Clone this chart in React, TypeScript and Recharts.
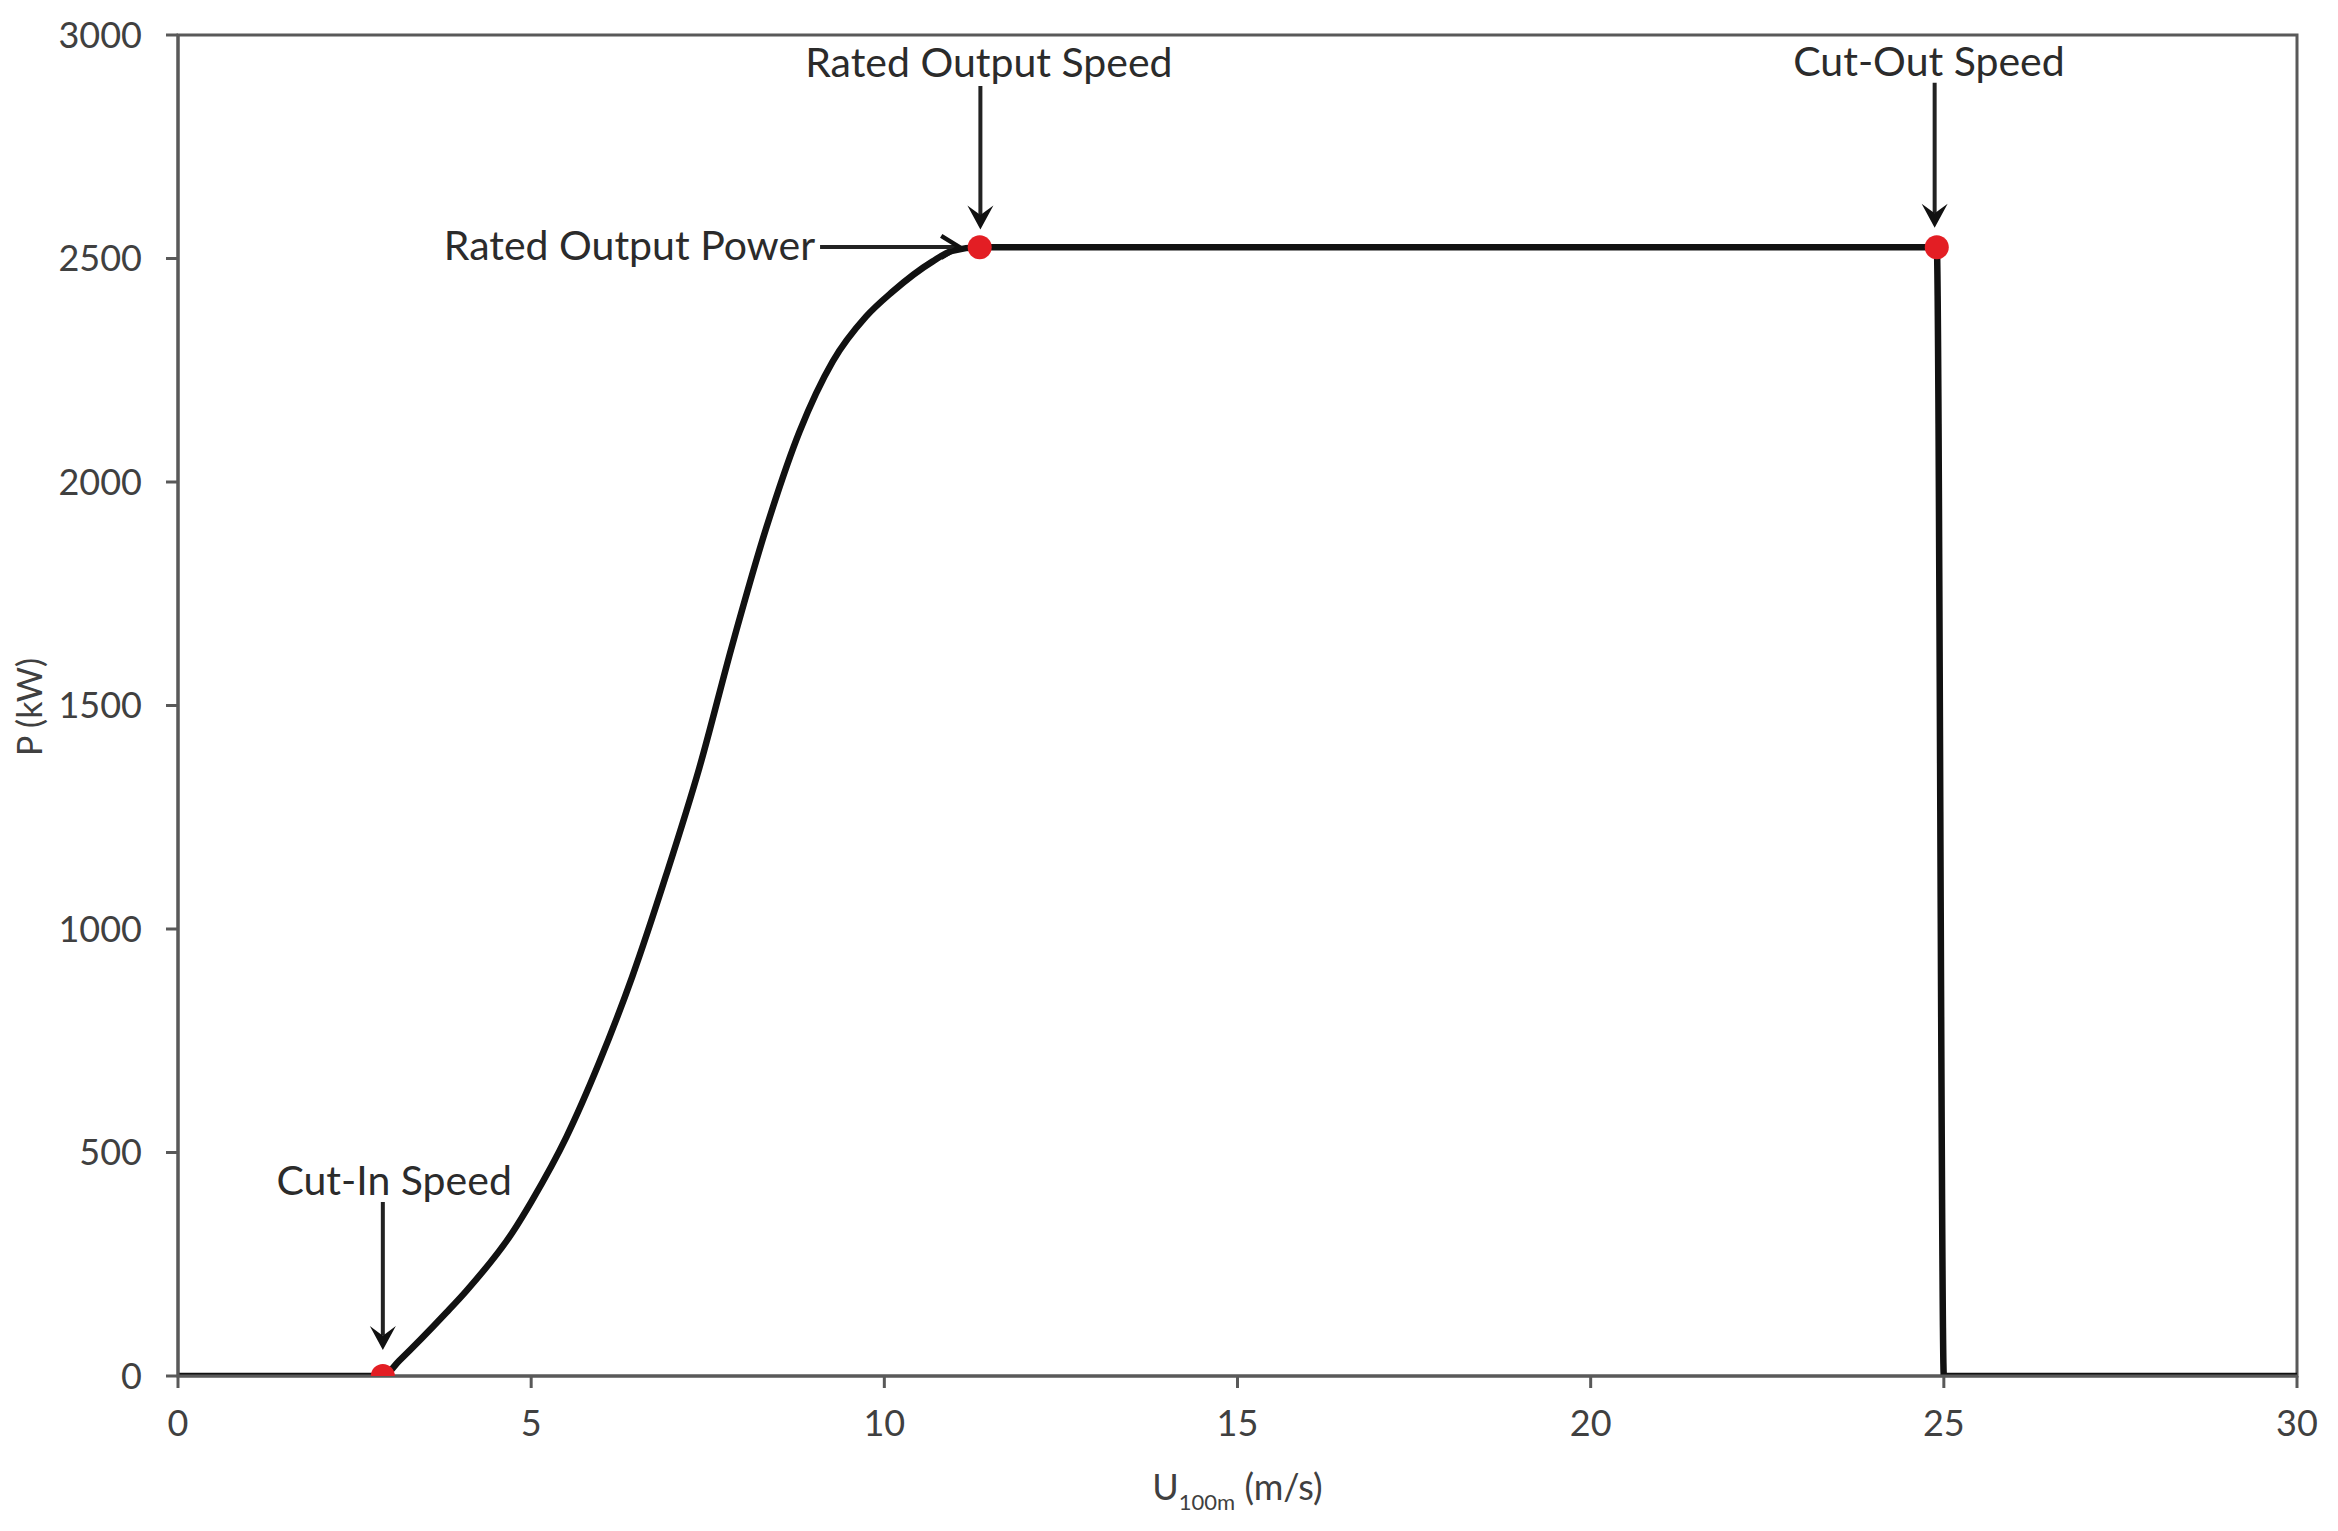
import React from 'react';
import {
  ComposedChart,
  Line,
  Scatter,
  XAxis,
  YAxis,
  ReferenceArea,
  ReferenceLine,
  ReferenceDot,
} from 'recharts';

// wind speed at 100 m (m/s) and power output (kW)
const windSpeed = [0, 2.9, 3.13, 3.8, 4.08, 4.73, 5.01, 5.5, 5.96, 6.43, 6.91, 7.38, 7.85, 8.33, 8.8, 9.27, 9.74, 10.11, 10.68, 10.96, 11.35, 24.9, 25, 30];
const powerKw = [0, 0, 34, 142, 190, 320, 392, 535, 700, 893, 1120, 1360, 1637, 1898, 2113, 2270, 2370, 2425, 2493, 2517, 2525, 2525, 0, 0];

// highlighted operating points
const markerSpeed = [2.9, 11.35, 24.9];
const markerPower = [0, 2525, 2525];

const xTicks = [0, 5, 10, 15, 20, 25, 30];
const yTicks = [0, 500, 1000, 1500, 2000, 2500, 3000];

const curveData = windSpeed.map((u, i) => ({ u, p: powerKw[i] }));
const markerData = markerSpeed.map((u, i) => ({ u, p: markerPower[i] }));

const FONT = 'Lato, "Open Sans", sans-serif';
const AXIS_GREY = '#595959';
const TEXT_GREY = '#404040';
const RED = '#e31e24';

// annotation labels, in data coordinates
const labels = [
  { text: 'Cut-In Speed', u: 3.06, p: 438, anchor: 'middle' },
  { text: 'Rated Output Speed', u: 11.48, p: 2938, anchor: 'middle' },
  { text: 'Cut-Out Speed', u: 24.79, p: 2942, anchor: 'middle' },
  { text: 'Rated Output Power', u: 9.02, p: 2530, anchor: 'end' },
];

// arrows: from -> to (tip), in data coordinates
const arrows = [
  { from: { x: 2.9, y: 389 }, to: { x: 2.9, y: 58 }, kind: 'filled' },
  { from: { x: 11.36, y: 2886 }, to: { x: 11.36, y: 2565 }, kind: 'filled' },
  { from: { x: 24.87, y: 2893 }, to: { x: 24.87, y: 2569 }, kind: 'filled' },
  { from: { x: 9.09, y: 2526 }, to: { x: 11.06, y: 2526 }, kind: 'open' },
];

function arrowGeom(p: any) {
  const { x1, y1, x2, y2 } = p;
  const dx = x2 - x1;
  const dy = y2 - y1;
  const len = Math.hypot(dx, dy) || 1;
  const ux = dx / len;
  const uy = dy / len;
  return { x1, y1, x2, y2, ux, uy, px: -uy, py: ux };
}

const filledArrow = (p: any) => {
  const g = arrowGeom(p);
  const head = 24;
  const half = 13;
  const bx = g.x2 - g.ux * head;
  const by = g.y2 - g.uy * head;
  const nx = g.x2 - g.ux * (head * 0.6);
  const ny = g.y2 - g.uy * (head * 0.6);
  const pts = [
    `${g.x2},${g.y2}`,
    `${bx + g.px * half},${by + g.py * half}`,
    `${nx},${ny}`,
    `${bx - g.px * half},${by - g.py * half}`,
  ].join(' ');
  return (
    <g>
      <line x1={g.x1} y1={g.y1} x2={nx} y2={ny} stroke="#222" strokeWidth={4} />
      <polygon points={pts} fill="#111" />
    </g>
  );
};

const openArrow = (p: any) => {
  const g = arrowGeom(p);
  const head = 18;
  const half = 11;
  const bx = g.x2 - g.ux * head;
  const by = g.y2 - g.uy * head;
  const pts = `${bx + g.px * half},${by + g.py * half} ${g.x2},${g.y2} ${bx - g.px * half},${by - g.py * half}`;
  return (
    <g>
      <line x1={g.x1} y1={g.y1} x2={g.x2 - g.ux * 2} y2={g.y2 - g.uy * 2} stroke="#222" strokeWidth={4} />
      <polyline points={pts} fill="none" stroke="#111" strokeWidth={4.5} />
    </g>
  );
};

const XLabel = (props: any) => {
  const vb = props.viewBox || {};
  const cx = vb.x + vb.width / 2;
  return (
    <text x={cx} y={vb.y + 124} textAnchor="middle" fill={TEXT_GREY} fontSize={36} fontFamily={FONT}>
      U
      <tspan fontSize={22} dy={10}>100m</tspan>
      <tspan dy={-10}> (m/s)</tspan>
    </text>
  );
};

const YLabel = () => (
  <text
    x={42}
    y={707}
    transform="rotate(-90 42 707)"
    textAnchor="middle"
    fill={TEXT_GREY}
    fontSize={34}
    fontFamily={FONT}
  >
    P (kW)
  </text>
);

export default function App() {
  return (
    <div style={{ position: 'absolute', left: 0, top: 0, background: '#fff' }}>
      <ComposedChart
        width={2338}
        height={1531}
        margin={{ top: 35, right: 41, bottom: 55, left: 58 }}
      >
        <XAxis
          dataKey="u"
          type="number"
          domain={[0, 30]}
          ticks={xTicks}
          interval={0}
          allowDataOverflow
          height={100}
          axisLine={{ stroke: AXIS_GREY, strokeWidth: 3 }}
          tickLine={{ stroke: AXIS_GREY, strokeWidth: 3 }}
          tickSize={12}
          tickMargin={22}
          tick={{ fill: TEXT_GREY, fontSize: 36, fontFamily: FONT }}
          label={<XLabel />}
        />
        <YAxis
          dataKey="p"
          type="number"
          domain={[0, 3000]}
          ticks={yTicks}
          interval={0}
          allowDataOverflow
          width={120}
          axisLine={{ stroke: AXIS_GREY, strokeWidth: 3 }}
          tickLine={{ stroke: AXIS_GREY, strokeWidth: 3 }}
          tickSize={12}
          tickMargin={24}
          tick={{ fill: TEXT_GREY, fontSize: 36, fontFamily: FONT }}
          label={<YLabel />}
        />
        <ReferenceArea
          x1={0}
          x2={30}
          y1={0}
          y2={3000}
          fill="none"
          fillOpacity={0}
          stroke={AXIS_GREY}
          strokeWidth={3}
        />
        <Line
          data={curveData}
          dataKey="p"
          type="monotone"
          stroke="#111"
          strokeWidth={6.5}
          dot={false}
          activeDot={false}
          isAnimationActive={false}
        />
        {arrows.map((a, i) => (
          <ReferenceLine
            key={`arrow-${i}`}
            segment={[a.from, a.to]}
            stroke="#222"
            strokeWidth={4}
            shape={a.kind === 'open' ? openArrow : filledArrow}
          />
        ))}
        <Scatter
          data={markerData}
          dataKey="p"
          fill={RED}
          isAnimationActive={false}
          shape={(p: any) => <circle cx={p.cx} cy={p.cy} r={12} fill={RED} />}
        />
        {labels.map((l, i) => (
          <ReferenceDot
            key={`label-${i}`}
            x={l.u}
            y={l.p}
            r={0}
            ifOverflow="visible"
            shape={(p: any) => (
              <text
                x={p.cx}
                y={p.cy}
                dy="0.36em"
                textAnchor={l.anchor as any}
                fill="#2b2b2b"
                fontSize={41}
                fontFamily={FONT}
              >
                {l.text}
              </text>
            )}
          />
        ))}
      </ComposedChart>
    </div>
  );
}
